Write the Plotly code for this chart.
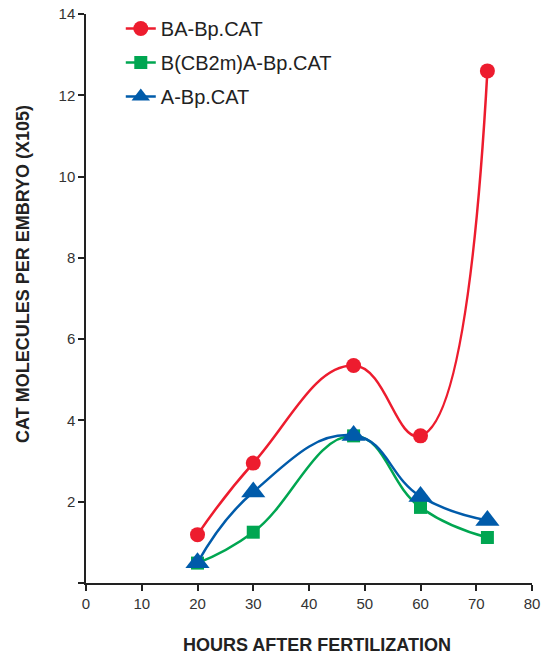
import plotly.graph_objects as go

hours = [20, 30, 48, 60, 72]
ba_bp_cat = [1.19, 2.95, 5.35, 3.62, 12.6]
bcb2m_a_bp_cat = [0.49, 1.25, 3.62, 1.86, 1.12]
a_bp_cat = [0.5, 2.24, 3.63, 2.13, 1.54]

series_names = ["BA-Bp.CAT", "B(CB2m)A-Bp.CAT", "A-Bp.CAT"]
x_ticks = [0, 10, 20, 30, 40, 50, 60, 70, 80]
y_ticks = [0, 2, 4, 6, 8, 10, 12, 14]
y_ticktext = ["", "2", "4", "6", "8", "10", "12", "14"]

RED = "#ED1C2E"
GREEN = "#00A651"
BLUE = "#005BAA"

fig = go.Figure()
specs = [
    (series_names[0], ba_bp_cat, RED, "circle", 15),
    (series_names[1], bcb2m_a_bp_cat, GREEN, "square", 13),
    (series_names[2], a_bp_cat, BLUE, "triangle-up", 21),
]
for i, (name, vals, col, sym, sz) in enumerate(specs):
    fig.add_trace(go.Scatter(
        x=hours, y=vals, name=name, mode="lines+markers",
        line=dict(color=col, width=2.5, shape="spline", smoothing=1.3),
        marker=dict(symbol=sym, size=sz, color=col, line=dict(width=0)),
        legendgroup=f"g{i}",
    ))

W, H = 543, 655
L, R, T, B = 86, 11, 2, 72
AX_TOP = 14  # pixel of y-axis top
pw, ph = W - L - R, H - T - B
ydom_top = 1 - (AX_TOP - T) / ph

fig.update_layout(
    width=W, height=H,
    margin=dict(l=L, r=R, t=T, b=B, autoexpand=False),
    paper_bgcolor="white", plot_bgcolor="white",
    font=dict(family="Liberation Sans, Arial, sans-serif", color="#333333"),
    showlegend=True,
    legend=dict(x=0.078, y=1 - 7 / ph, xanchor="left", yanchor="top",
                font=dict(size=20, color="#222222"),
                bgcolor="rgba(0,0,0,0)", tracegroupgap=5),
    xaxis=dict(range=[0, 80], tickvals=x_ticks, showgrid=False, zeroline=False,
               showline=True, linecolor="#222222", linewidth=1.5,
               ticks="outside", ticklen=6, tickwidth=1.5, tickcolor="#222222",
               tickfont=dict(size=15, color="#333333")),
    yaxis=dict(range=[0, 14], tickvals=y_ticks, ticktext=y_ticktext,
               domain=[0, ydom_top],
               showgrid=False, zeroline=False,
               showline=True, linecolor="#222222", linewidth=1.5,
               ticks="outside", ticklen=6, tickwidth=1.5, tickcolor="#222222",
               tickfont=dict(size=15, color="#333333")),
)
fig.add_annotation(text="<b>HOURS AFTER FERTILIZATION</b>",
                   x=(317 - L) / pw, y=-(645 - (H - B)) / ph,
                   xref="paper", yref="paper", showarrow=False,
                   xanchor="center", yanchor="middle",
                   font=dict(size=18, color="#222222"))
fig.add_annotation(text="<b>CAT MOLECULES PER EMBRYO (X105)</b>",
                   x=-(L - 23) / pw, y=((H - B) - 274) / ph,
                   xref="paper", yref="paper", showarrow=False,
                   xanchor="center", yanchor="middle", textangle=-90,
                   font=dict(size=18, color="#222222"))

fig.write_html("out.html", config={"displayModeBar": False},
               post_script="document.body.style.margin='0';document.body.style.overflow='hidden';")
